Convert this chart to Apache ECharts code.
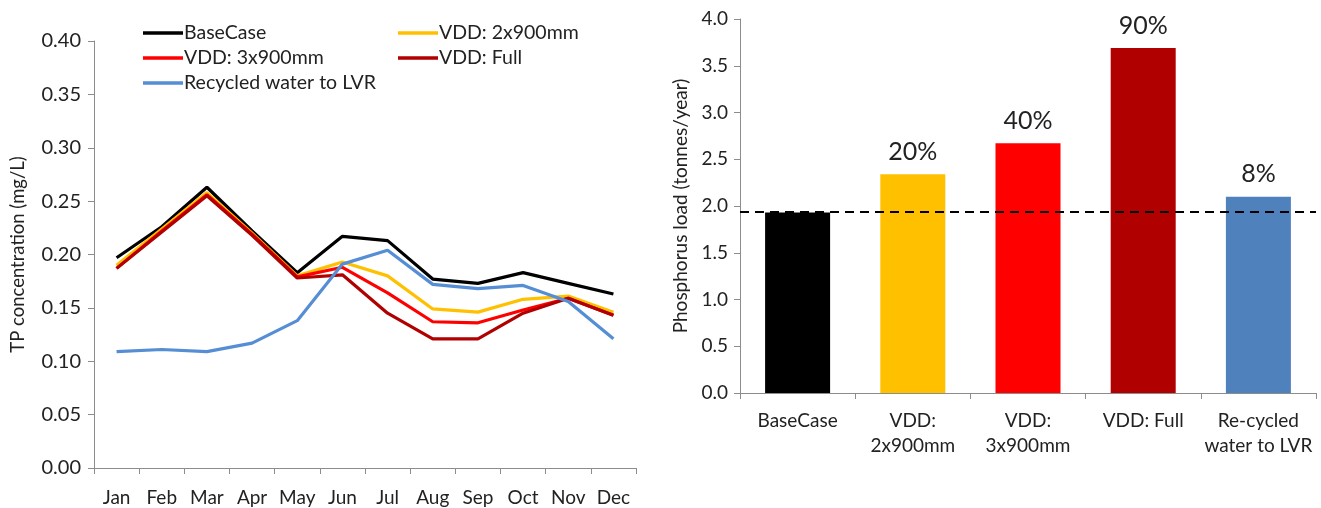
<!DOCTYPE html>
<html>
<head>
<meta charset="utf-8">
<script src="https://cdn.jsdelivr.net/npm/echarts@6/dist/echarts.min.js"></script>
<style>
    html, body { margin: 0; padding: 0; background: #fff; }
    #chart { width: 1321px; height: 508px; }
</style>
</head>
<body>
<div id="chart"></div>
<script>
// monthly TP concentration (mg/L)
var months = ['Jan', 'Feb', 'Mar', 'Apr', 'May', 'Jun', 'Jul', 'Aug', 'Sep', 'Oct', 'Nov', 'Dec'];
var lineNames = ['BaseCase', 'VDD: 2x900mm', 'VDD: 3x900mm', 'VDD: Full', 'Recycled water to LVR'];
var baseCase = [0.197, 0.226, 0.263, 0.222, 0.183, 0.217, 0.213, 0.177, 0.173, 0.183, 0.173, 0.163];
var vdd2x900 = [0.190, 0.224, 0.258, 0.220, 0.180, 0.193, 0.180, 0.149, 0.146, 0.158, 0.161, 0.146];
var vdd3x900 = [0.187, 0.222, 0.256, 0.219, 0.179, 0.188, 0.164, 0.137, 0.136, 0.148, 0.159, 0.143];
var vddFull = [0.187, 0.221, 0.255, 0.218, 0.178, 0.181, 0.145, 0.121, 0.121, 0.145, 0.159, 0.143];
var recycled = [0.109, 0.111, 0.109, 0.117, 0.138, 0.191, 0.204, 0.172, 0.168, 0.171, 0.156, 0.121];

// annual phosphorus load (tonnes/year)
var barCats = ['BaseCase', 'VDD:\n2x900mm', 'VDD:\n3x900mm', 'VDD: Full', 'Re-cycled\nwater to LVR'];
var barValues = [1.93, 2.34, 2.67, 3.69, 2.10];
var barPct = ['', '20%', '40%', '90%', '8%'];
var baseLine = 1.94;

var echartColor = ['#000000', '#FFC000', '#FF0000', '#B00000', '#558ED5'];
var barColor = ['#000000', '#FFC000', '#FF0000', '#B00000', '#4F81BD'];
var fontName = 'Lato';

var lineData = [baseCase, vdd2x900, vdd3x900, vddFull, recycled];
var lineSeries = [];
for (var i = 0; i < lineNames.length; i++) {
    lineSeries.push({
        name: lineNames[i],
        type: 'line',
        xAxisIndex: 0,
        yAxisIndex: 0,
        symbol: 'none',
        lineStyle: { width: 3.2, color: echartColor[i] },
        itemStyle: { color: echartColor[i] },
        data: lineData[i]
    });
}

var barData = [];
for (var j = 0; j < barValues.length; j++) {
    barData.push({
        value: barValues[j],
        itemStyle: { color: barColor[j] },
        label: { show: barPct[j] !== '', formatter: barPct[j] }
    });
}

var axisGrey = '#8c8c8c';
var legendText = { fontSize: 19.5, color: '#222', fontFamily: fontName, padding: [0, 0, 0, -4] };
var myChart = echarts.init(document.getElementById('chart'));
var option = {
    backgroundColor: '#fff',
    animation: false,
    textStyle: { fontFamily: fontName, color: '#222' },
    legend: [
        {
            orient: 'vertical',
            left: 138,
            top: 18,
            icon: 'rect',
            itemWidth: 40,
            itemHeight: 3.5,
            itemGap: 5,
            data: ['BaseCase', 'VDD: 3x900mm', 'Recycled water to LVR'],
            textStyle: legendText
        },
        {
            orient: 'vertical',
            left: 393,
            top: 18,
            icon: 'rect',
            itemWidth: 40,
            itemHeight: 3.5,
            itemGap: 5,
            data: ['VDD: 2x900mm', 'VDD: Full'],
            textStyle: legendText
        }
    ],
    grid: [
        { left: 94, right: 685, top: 41, bottom: 40 },
        { left: 740, right: 5, top: 19, bottom: 115 }
    ],
    xAxis: [
        {
            gridIndex: 0,
            type: 'category',
            data: months,
            boundaryGap: true,
            axisLine: { lineStyle: { color: axisGrey } },
            axisTick: { show: true, length: 6, inside: false, lineStyle: { color: axisGrey } },
            axisLabel: { fontSize: 19, color: '#222', margin: 20, interval: 0, fontFamily: fontName }
        },
        {
            gridIndex: 1,
            type: 'category',
            data: barCats,
            boundaryGap: true,
            axisLine: { lineStyle: { color: axisGrey } },
            axisTick: { show: true, length: 6, lineStyle: { color: axisGrey } },
            axisLabel: { fontSize: 19, color: '#222', margin: 15, lineHeight: 25, interval: 0, fontFamily: fontName }
        }
    ],
    yAxis: [
        {
            gridIndex: 0,
            type: 'value',
            min: 0,
            max: 0.4,
            interval: 0.05,
            name: 'TP concentration (mg/L)',
            nameLocation: 'middle',
            nameGap: 66,
            nameTextStyle: { fontSize: 18.5, color: '#222', fontFamily: fontName },
            axisLine: { show: true, lineStyle: { color: axisGrey } },
            axisTick: { show: true, length: 6, lineStyle: { color: axisGrey } },
            splitLine: { show: false },
            axisLabel: {
                fontSize: 20, color: '#222', margin: 13, fontFamily: fontName,
                formatter: function (v) { return v.toFixed(2); }
            }
        },
        {
            gridIndex: 1,
            type: 'value',
            min: 0,
            max: 4,
            interval: 0.5,
            name: 'Phosphorus load (tonnes/year)',
            nameLocation: 'middle',
            nameGap: 50,
            nameTextStyle: { fontSize: 19, color: '#222', fontFamily: fontName },
            axisLine: { show: true, lineStyle: { color: axisGrey } },
            axisTick: { show: true, length: 6, lineStyle: { color: axisGrey } },
            splitLine: { show: false },
            axisLabel: {
                fontSize: 19, color: '#222', margin: 12, fontFamily: fontName,
                formatter: function (v) { return v.toFixed(1); }
            }
        }
    ],
    series: lineSeries.concat([
        {
            name: 'Phosphorus load',
            type: 'bar',
            xAxisIndex: 1,
            yAxisIndex: 1,
            barWidth: 65,
            label: {
                position: 'top',
                distance: 10,
                fontSize: 25,
                color: '#222',
                fontFamily: fontName
            },
            data: barData,
            markLine: {
                silent: true,
                symbol: 'none',
                label: { show: false },
                lineStyle: { color: '#000', type: [9, 6], width: 2 },
                data: [{ yAxis: baseLine }]
            }
        }
    ])
};
myChart.setOption(option);
</script>
</body>
</html>
